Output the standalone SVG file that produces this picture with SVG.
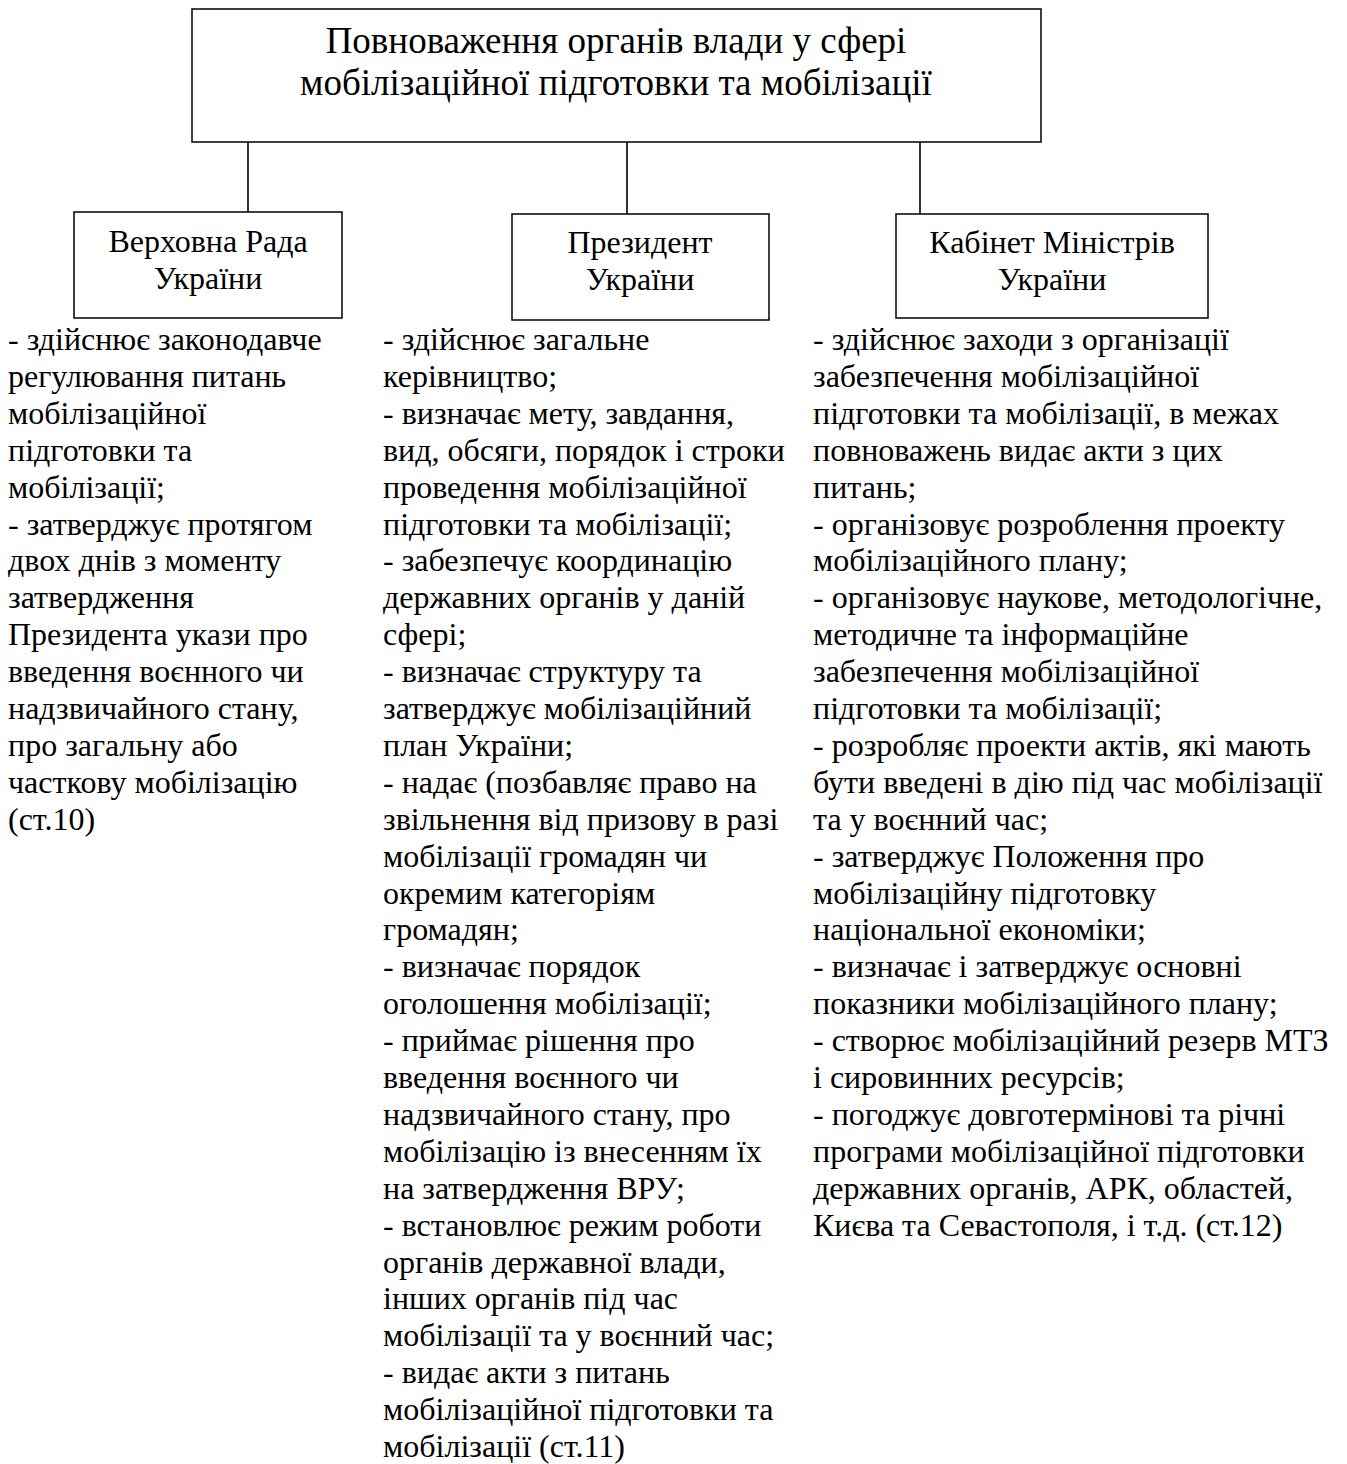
<svg xmlns="http://www.w3.org/2000/svg" width="1347" height="1464" viewBox="0 0 1347 1464">
<style>
.box{fill:#fff;stroke:#000;stroke-width:1.5}
.ln{stroke:#000;stroke-width:1.6;fill:none}
.t{font-family:"Liberation Serif","Times New Roman",serif;fill:#000}
.title{font-size:37px}
.lab{font-size:32px}
.body{font-size:32px}
</style>
<rect width="1347" height="1464" fill="#fff"/>
<g id="connectors">
<line class="ln" x1="248" y1="142" x2="248" y2="212"/>
<line class="ln" x1="627" y1="142" x2="627" y2="214"/>
<line class="ln" x1="920" y1="142" x2="920" y2="214"/>
</g>
<g id="root">
<rect class="box" x="192" y="9" width="849" height="133"/>
<text class="t title" text-anchor="middle"><tspan x="616" y="53">Повноваження органів влади у сфері</tspan><tspan x="616" y="95">мобілізаційної підготовки та мобілізації</tspan></text>
</g>
<g id="vru">
<rect class="box" x="74" y="212" width="268" height="106"/>
<text class="t lab" text-anchor="middle"><tspan x="208" y="252">Верховна Рада</tspan><tspan x="208" y="289">України</tspan></text>
</g>
<g id="president">
<rect class="box" x="512" y="214" width="257" height="106"/>
<text class="t lab" text-anchor="middle"><tspan x="640" y="253">Президент</tspan><tspan x="640" y="290">України</tspan></text>
</g>
<g id="kmu">
<rect class="box" x="896" y="214" width="312" height="104"/>
<text class="t lab" text-anchor="middle"><tspan x="1052" y="253">Кабінет Міністрів</tspan><tspan x="1052" y="290">України</tspan></text>
</g>
<g id="vru-text">
<text class="t body">
<tspan x="8" y="350">- здійснює законодавче</tspan>
<tspan x="8" y="386.9">регулювання питань</tspan>
<tspan x="8" y="423.8">мобілізаційної</tspan>
<tspan x="8" y="460.7">підготовки та</tspan>
<tspan x="8" y="497.6">мобілізації;</tspan>
<tspan x="8" y="534.5">- затверджує протягом</tspan>
<tspan x="8" y="571.4">двох днів з моменту</tspan>
<tspan x="8" y="608.3">затвердження</tspan>
<tspan x="8" y="645.2">Президента укази про</tspan>
<tspan x="8" y="682.1">введення воєнного чи</tspan>
<tspan x="8" y="719">надзвичайного стану,</tspan>
<tspan x="8" y="755.9">про загальну або</tspan>
<tspan x="8" y="792.8">часткову мобілізацію</tspan>
<tspan x="8" y="829.7">(ст.10)</tspan>
</text>
</g>
<g id="president-text">
<text class="t body">
<tspan x="383" y="350">- здійснює загальне</tspan>
<tspan x="383" y="386.9">керівництво;</tspan>
<tspan x="383" y="423.8">- визначає мету, завдання,</tspan>
<tspan x="383" y="460.7">вид, обсяги, порядок і строки</tspan>
<tspan x="383" y="497.6">проведення мобілізаційної</tspan>
<tspan x="383" y="534.5">підготовки та мобілізації;</tspan>
<tspan x="383" y="571.4">- забезпечує координацію</tspan>
<tspan x="383" y="608.3">державних органів у даній</tspan>
<tspan x="383" y="645.2">сфері;</tspan>
<tspan x="383" y="682.1">- визначає структуру та</tspan>
<tspan x="383" y="719">затверджує мобілізаційний</tspan>
<tspan x="383" y="755.9">план України;</tspan>
<tspan x="383" y="792.8">- надає (позбавляє право на</tspan>
<tspan x="383" y="829.7">звільнення від призову в разі</tspan>
<tspan x="383" y="866.6">мобілізації громадян чи</tspan>
<tspan x="383" y="903.5">окремим категоріям</tspan>
<tspan x="383" y="940.4">громадян;</tspan>
<tspan x="383" y="977.3">- визначає порядок</tspan>
<tspan x="383" y="1014.2">оголошення мобілізації;</tspan>
<tspan x="383" y="1051.1">- приймає рішення про</tspan>
<tspan x="383" y="1088">введення воєнного чи</tspan>
<tspan x="383" y="1124.9">надзвичайного стану, про</tspan>
<tspan x="383" y="1161.8">мобілізацію із внесенням їх</tspan>
<tspan x="383" y="1198.7">на затвердження ВРУ;</tspan>
<tspan x="383" y="1235.6">- встановлює режим роботи</tspan>
<tspan x="383" y="1272.5">органів державної влади,</tspan>
<tspan x="383" y="1309.4">інших органів під час</tspan>
<tspan x="383" y="1346.3">мобілізації та у воєнний час;</tspan>
<tspan x="383" y="1383.2">- видає акти з питань</tspan>
<tspan x="383" y="1420.1">мобілізаційної підготовки та</tspan>
<tspan x="383" y="1457">мобілізації (ст.11)</tspan>
</text>
</g>
<g id="kmu-text">
<text class="t body">
<tspan x="813" y="350">- здійснює заходи з організації</tspan>
<tspan x="813" y="386.9">забезпечення мобілізаційної</tspan>
<tspan x="813" y="423.8">підготовки та мобілізації, в межах</tspan>
<tspan x="813" y="460.7">повноважень видає акти з цих</tspan>
<tspan x="813" y="497.6">питань;</tspan>
<tspan x="813" y="534.5">- організовує розроблення проекту</tspan>
<tspan x="813" y="571.4">мобілізаційного плану;</tspan>
<tspan x="813" y="608.3">- організовує наукове, методологічне,</tspan>
<tspan x="813" y="645.2">методичне та інформаційне</tspan>
<tspan x="813" y="682.1">забезпечення мобілізаційної</tspan>
<tspan x="813" y="719">підготовки та мобілізації;</tspan>
<tspan x="813" y="755.9">- розробляє проекти актів, які мають</tspan>
<tspan x="813" y="792.8">бути введені в дію під час мобілізації</tspan>
<tspan x="813" y="829.7">та у воєнний час;</tspan>
<tspan x="813" y="866.6">- затверджує Положення про</tspan>
<tspan x="813" y="903.5">мобілізаційну підготовку</tspan>
<tspan x="813" y="940.4">національної економіки;</tspan>
<tspan x="813" y="977.3">- визначає і затверджує основні</tspan>
<tspan x="813" y="1014.2">показники мобілізаційного плану;</tspan>
<tspan x="813" y="1051.1">- створює мобілізаційний резерв МТЗ</tspan>
<tspan x="813" y="1088">і сировинних ресурсів;</tspan>
<tspan x="813" y="1124.9">- погоджує довготермінові та річні</tspan>
<tspan x="813" y="1161.8">програми мобілізаційної підготовки</tspan>
<tspan x="813" y="1198.7">державних органів, АРК, областей,</tspan>
<tspan x="813" y="1235.6">Києва та Севастополя, і т.д. (ст.12)</tspan>
</text>
</g>
</svg>
